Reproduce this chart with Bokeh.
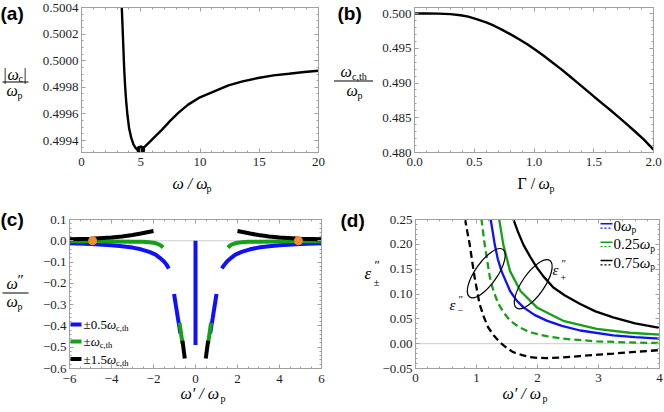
import numpy as np
from bokeh.plotting import figure
from bokeh.layouts import column, row
from bokeh.models import (Range1d, FixedTicker, LinearAxis, Label, Arrow, Span, GridBox,
                          PrintfTickFormatter, CustomJSTickFormatter)
from bokeh.embed import file_html
from bokeh.resources import INLINE

# ---------------- data: panel (a) ----------------
a_omega = [3.36, 3.40, 3.45, 3.49, 3.55, 3.60, 3.68, 3.77, 3.88, 4.02, 4.20, 4.39, 4.60, 4.80, 5.00,
           5.30, 5.65, 6.20, 6.78, 7.50, 8.19, 9.00, 10.0, 11.2, 12.4, 13.6, 14.9, 16.2, 17.5, 18.8, 20.0]
a_wc = [0.50050, 0.50040, 0.50029, 0.500195, 0.50006, 0.499944, 0.49981, 0.499695, 0.49959, 0.49949,
        0.49942, 0.49937, 0.49934, 0.49933, 0.49933, 0.49935, 0.49938, 0.49943, 0.49948, 0.49955,
        0.49961, 0.49967, 0.499725, 0.49977, 0.499815, 0.499845, 0.49987, 0.49989, 0.499902, 0.499915, 0.499925]
a_min_omega = [5.0]
a_min_wc = [0.49933]
a_xticks = [0, 5, 10, 15, 20]
a_yticks = [0.4994, 0.4996, 0.4998, 0.5000, 0.5002, 0.5004]

# ---------------- data: panel (b) ----------------
b_gamma = [0.0, 0.1, 0.2, 0.3, 0.386, 0.45, 0.525, 0.6, 0.665, 0.735, 0.805, 0.875, 0.944, 1.014,
           1.084, 1.154, 1.224, 1.294, 1.363, 1.433, 1.503, 1.573, 1.643, 1.713, 1.783, 1.85, 1.92, 2.0]
b_wth = [0.50000, 0.50000, 0.49999, 0.49992, 0.49975, 0.49955, 0.49917, 0.49872, 0.49825, 0.49765,
         0.49700, 0.49630, 0.49558, 0.49475, 0.49388, 0.49296, 0.49203, 0.49105, 0.49006, 0.48905,
         0.48803, 0.48704, 0.48605, 0.48502, 0.48398, 0.48295, 0.48185, 0.48040]
b_xticks = [0.0, 0.5, 1.0, 1.5, 2.0]
b_yticks = [0.480, 0.485, 0.490, 0.495, 0.500]

# ---------------- data: panel (c) ----------------
c_blue_tail_l_x = [-6.0, -5.0, -4.0, -3.5, -3.0, -2.6, -2.2, -1.9, -1.7, -1.5, -1.38, -1.27]
c_blue_tail_l_y = [-0.012, -0.015, -0.021, -0.026, -0.032, -0.040, -0.052, -0.065, -0.080, -0.097, -0.112, -0.130]
c_blue_tail_r_x = [6.0, 5.0, 4.0, 3.5, 3.0, 2.6, 2.2, 1.9, 1.7, 1.5, 1.38, 1.25]
c_blue_tail_r_y = [-0.012, -0.015, -0.021, -0.026, -0.032, -0.040, -0.052, -0.065, -0.080, -0.097, -0.112, -0.130]
c_green_tail_l_x = [-6.0, -5.0, -4.0, -3.0, -2.5, -2.2, -2.0, -1.85, -1.72, -1.62, -1.55]
c_green_tail_l_y = [-0.002, -0.002, -0.003, -0.004, -0.005, -0.007, -0.009, -0.013, -0.018, -0.024, -0.032]
c_green_tail_r_x = [6.0, 5.0, 4.0, 3.0, 2.5, 2.2, 2.0, 1.85, 1.72, 1.62, 1.55]
c_green_tail_r_y = [-0.002, -0.002, -0.003, -0.004, -0.005, -0.007, -0.009, -0.013, -0.018, -0.024, -0.032]
c_black_tail_l_x = [-6.0, -5.0, -4.0, -3.5, -3.0, -2.6, -2.3, -2.0]
c_black_tail_l_y = [0.007, 0.010, 0.015, 0.020, 0.027, 0.034, 0.040, 0.046]
c_black_tail_r_x = [6.0, 5.0, 4.0, 3.5, 3.0, 2.6, 2.3, 2.0]
c_black_tail_r_y = [0.007, 0.010, 0.015, 0.020, 0.027, 0.034, 0.040, 0.046]
c_blue_in_l_x = [-1.02, -0.96, -0.90, -0.84, -0.78, -0.72]
c_blue_in_r_x = [1.00, 0.94, 0.88, 0.82, 0.76, 0.70]
c_blue_in_y = [-0.250, -0.288, -0.325, -0.362, -0.398, -0.435]
c_green_in_l_x = [-0.76, -0.71, -0.66, -0.62]
c_green_in_r_x = [0.74, 0.69, 0.64, 0.60]
c_green_in_y = [-0.385, -0.420, -0.455, -0.482]
c_black_in_l_x = [-0.62, -0.58, -0.54, -0.51]
c_black_in_r_x = [0.60, 0.56, 0.52, 0.49]
c_black_in_y = [-0.470, -0.500, -0.530, -0.553]
c_blue_mid_x = [0.0, 0.0]
c_blue_mid_y = [0.0, -0.49]
c_dot_x = [-4.9, 4.9]
c_dot_y = [0.0, 0.0]
c_xticks = [-6, -4, -2, 0, 2, 4, 6]
c_yticks = [-0.6, -0.5, -0.4, -0.3, -0.2, -0.1, 0.0, 0.1]
c_legend = ["\u00b10.5", "\u00b1", "\u00b11.5"]

# ---------------- data: panel (d) ----------------
d_blue_x = [1.23, 1.30, 1.35, 1.41, 1.55, 1.65, 1.77, 1.95, 2.15, 2.40, 2.70, 3.24, 3.60, 4.00]
d_blue_y = [0.252, 0.199, 0.170, 0.146, 0.106, 0.088, 0.073, 0.058, 0.0464, 0.036, 0.0265, 0.0165, 0.013, 0.010]
d_green_p_x = [1.37, 1.44, 1.55, 1.72, 1.99, 2.42, 2.97, 3.51, 4.00]
d_green_p_y = [0.252, 0.199, 0.146, 0.106, 0.073, 0.046, 0.0299, 0.022, 0.018]
d_green_m_x = [1.08, 1.135, 1.22, 1.28, 1.36, 1.45, 1.55, 1.70, 1.875, 2.15, 2.42, 2.97, 3.50, 4.00]
d_green_m_y = [0.252, 0.199, 0.133, 0.105, 0.080, 0.062, 0.0464, 0.033, 0.023, 0.015, 0.010, 0.0046, 0.0025, 0.0013]
d_black_p_x = [1.60, 1.68, 1.77, 1.88, 1.99, 2.10, 2.26, 2.45, 2.70, 2.95, 3.24, 3.60, 4.00]
d_black_p_y = [0.252, 0.225, 0.199, 0.175, 0.153, 0.135, 0.113, 0.097, 0.080, 0.065, 0.053, 0.041, 0.032]
d_black_m_x = [0.81, 0.85, 0.89, 0.93, 0.97, 1.05, 1.12, 1.19, 1.28, 1.38, 1.50, 1.60, 1.75, 1.87,
               2.00, 2.15, 2.40, 2.69, 3.00, 3.24, 3.60, 4.00]
d_black_m_y = [0.252, 0.225, 0.199, 0.165, 0.133, 0.080, 0.054, 0.033, 0.017, 0.003, -0.009, -0.017,
               -0.023, -0.027, -0.0285, -0.029, -0.028, -0.025, -0.022, -0.020, -0.0165, -0.013]
d_ellipse_x = [1.16, 1.93]
d_ellipse_y = [0.142, 0.1195]
d_xticks = [0, 1, 2, 3, 4]
d_yticks = [-0.05, 0.0, 0.05, 0.10, 0.15, 0.20, 0.25]
d_legend = ["0", "0.25", "0.75"]

# ---------------- styling ----------------
FRAME = "#a0a0a0"
TICKC = "#1e1e1e"
SERIF = "Liberation Serif"
SANS = "Liberation Sans"
BLUE = "#1010ff"
GREEN = "#16a016"
ORANGE = "#f28c28"


def style_axis(ax, ticks, minor, fmt, labels):
    ax.ticker = FixedTicker(ticks=ticks, minor_ticks=minor)
    if fmt is not None:
        ax.formatter = fmt
    ax.axis_line_color = FRAME
    ax.major_tick_line_color = FRAME
    ax.minor_tick_line_color = FRAME
    ax.major_tick_in = 4
    ax.major_tick_out = 0
    ax.minor_tick_in = 2
    ax.minor_tick_out = 0
    if labels:
        ax.major_label_text_font = SERIF
        ax.major_label_text_font_size = "13px"
        ax.major_label_text_color = TICKC
    else:
        ax.major_label_text_font_size = "1px"
        ax.major_label_text_color = None
        ax.major_label_standoff = 0


def base(xr, yr, borders, xt, xm, yt, ym, xfmt, yfmt, xstand=5, ystand=3):
    l, r, t, b = borders
    p = figure(width=332, height=206, x_range=Range1d(*xr), y_range=Range1d(*yr),
               output_backend="svg", toolbar_location=None,
               min_border_left=l, min_border_right=r, min_border_top=t, min_border_bottom=b)
    p.grid.visible = False
    p.outline_line_color = FRAME
    p.border_fill_color = "white"
    style_axis(p.xaxis[0], xt, xm, xfmt, True)
    style_axis(p.yaxis[0], yt, ym, yfmt, True)
    p.xaxis[0].major_label_standoff = xstand
    p.yaxis[0].major_label_standoff = ystand
    top = LinearAxis()
    style_axis(top, xt, xm, None, False)
    p.add_layout(top, "above")
    right = LinearAxis()
    style_axis(right, yt, ym, None, False)
    p.add_layout(right, "right")
    return p


def minus_fmt(n):
    return CustomJSTickFormatter(code=f"""
        const s = Math.abs(tick).toFixed({n});
        return (tick < -1e-12 ? '\u2212' : '') + s;""")


def mticks(lo, hi, step):
    return [float(v) for v in np.round(np.arange(lo, hi + step / 2, step), 6)]

# ---------------- panel (a) ----------------
pa = base((0, 20), (0.49931, 0.5004), (81, 14, 7, 54),
          a_xticks, mticks(0, 20, 1), a_yticks, mticks(0.4993, 0.5004, 0.00005),
          PrintfTickFormatter(format="%d"), PrintfTickFormatter(format="%.4f"))
pa.line(a_omega, a_wc, line_color="black", line_width=2.4)
pa.scatter(a_min_omega, a_min_wc, size=8, color="black")

# ---------------- panel (b) ----------------
pb = base((0, 2), (0.480, 0.50087), (82, 11, 3, 52),
          b_xticks, mticks(0, 2, 0.1), b_yticks, mticks(0.480, 0.500, 0.001),
          PrintfTickFormatter(format="%.1f"), PrintfTickFormatter(format="%.3f"))
pb.line(b_gamma, b_wth, line_color="black", line_width=2.4)

# ---------------- panel (c) ----------------
pc = base((-6, 6), (-0.6, 0.1), (69, 11, 7, 44),
          c_xticks, mticks(-6, 6, 0.5), c_yticks, mticks(-0.6, 0.1, 0.02),
          minus_fmt(0), minus_fmt(1), xstand=6)
pc.add_layout(Span(location=0, dimension="width", line_color="#cccccc", line_width=1, level="underlay"))
LW = 4
pc.line(c_blue_tail_l_x, c_blue_tail_l_y, line_color=BLUE, line_width=LW)
pc.line(c_blue_tail_r_x, c_blue_tail_r_y, line_color=BLUE, line_width=LW)
pc.line(c_blue_in_l_x, c_blue_in_y, line_color=BLUE, line_width=LW)
pc.line(c_blue_in_r_x, c_blue_in_y, line_color=BLUE, line_width=LW)
pc.line(c_blue_mid_x, c_blue_mid_y, line_color=BLUE, line_width=LW)
pc.line(c_green_tail_l_x, c_green_tail_l_y, line_color=GREEN, line_width=LW)
pc.line(c_green_tail_r_x, c_green_tail_r_y, line_color=GREEN, line_width=LW)
pc.line(c_green_in_l_x, c_green_in_y, line_color=GREEN, line_width=LW)
pc.line(c_green_in_r_x, c_green_in_y, line_color=GREEN, line_width=LW)
pc.line(c_black_tail_l_x, c_black_tail_l_y, line_color="black", line_width=LW)
pc.line(c_black_tail_r_x, c_black_tail_r_y, line_color="black", line_width=LW)
pc.line(c_black_in_l_x, c_black_in_y, line_color="black", line_width=LW)
pc.line(c_black_in_r_x, c_black_in_y, line_color="black", line_width=LW)
pc.scatter(c_dot_x, c_dot_y, size=8, color=ORANGE)

# ---------------- panel (d) ----------------
pd_ = base((0, 4), (-0.05, 0.25), (83, 5, 13, 43),
           d_xticks, mticks(0, 4, 0.2), d_yticks, mticks(-0.05, 0.25, 0.01),
           minus_fmt(0), minus_fmt(2))
pd_.add_layout(Span(location=0, dimension="width", line_color="#cccccc", line_width=1, level="underlay"))
DW = 2.3
DASH = "7 4"
pd_.line(d_black_m_x, d_black_m_y, line_color="black", line_width=DW, line_dash=DASH)
pd_.line(d_green_m_x, d_green_m_y, line_color=GREEN, line_width=DW, line_dash=DASH)
pd_.line(d_blue_x, d_blue_y, line_color=BLUE, line_width=DW)
pd_.line(d_green_p_x, d_green_p_y, line_color=GREEN, line_width=DW)
pd_.line(d_black_p_x, d_black_p_y, line_color="black", line_width=DW)
pd_.ellipse(x=d_ellipse_x, y=d_ellipse_y, width=58, height=22, angle=0.96,
            width_units="screen", height_units="screen", fill_alpha=0,
            line_color="black", line_width=1.2)

# ---------------- transparent text overlay (page pixel coordinates) ----------------
ov = figure(width=664, height=412, x_range=Range1d(0, 664), y_range=Range1d(412, 0),
            output_backend="svg", toolbar_location=None, min_border=0,
            x_axis_location=None, y_axis_location=None)
ov.grid.visible = False
ov.outline_line_color = None
ov.background_fill_color = None
ov.border_fill_color = None


def T(cx, cy, s, size, style="normal", font=SERIF, color="black"):
    ov.add_layout(Label(x=cx, y=cy, text=s, text_font=font, text_font_size=f"{size}px",
                        text_font_style=style, text_align="left", text_baseline="middle",
                        text_color=color))


def H(x0, x1, cy, color="black", width=1.0, dash="solid"):
    ov.add_layout(Arrow(end=None, x_start=x0, y_start=cy, x_end=x1, y_end=cy,
                        line_color=color, line_width=width, line_dash=dash))

# (a)
T(0, 13, "(a)", 19, "bold", SANS)
T(3, 73.5, "|", 16)
T(7, 73.5, "\u03c9", 16, "italic")
T(18, 78, "c", 10)
T(23, 73.5, "|", 16)
H(2, 28, 81.5)
T(6, 90, "\u03c9", 16, "italic")
T(17, 95, "p", 10)
T(172, 183, "\u03c9 / \u03c9", 16, "italic")
T(206, 188, "p", 10)
# (b)
T(337, 13, "(b)", 19, "bold", SANS)
T(340, 71, "\u03c9", 16, "italic")
T(351.5, 75.5, "c,th", 10)
H(333.5, 372.5, 80.5)
T(346, 90, "\u03c9", 16, "italic")
T(357, 95, "p", 10)
T(517, 183, "\u0393 / ", 16)
T(538, 183, "\u03c9", 16, "italic")
T(549, 188, "p", 10)
# (c)
T(0, 219, "(c)", 19, "bold", SANS)
T(6, 283, "\u03c9", 16, "italic")
T(17, 279, "\u2033", 15)
H(2, 28, 292.5)
T(6, 301, "\u03c9", 16, "italic")
T(17, 306, "p", 10)
T(180, 393, "\u03c9\u2032 / \u03c9", 16, "italic")
T(220, 398, "p", 10)
for lab, yy, col, w in zip(c_legend, [324, 341, 358.5], [BLUE, GREEN, "black"], [23.6, 7.3, 23.6]):
    H(70, 81, yy, color=col, width=4)
    T(83, yy, lab, 13)
    T(83 + w, yy, "\u03c9", 13, "italic")
    T(83 + w + 9, yy + 3.5, "c,th", 8.5)
# (d)
T(340, 219.5, "(d)", 19, "bold", SANS)
T(364, 273, "\u03b5", 17, "italic")
T(374, 264, "\u2033", 13)
T(373, 281, "\u00b1", 11)
T(502, 393, "\u03c9\u2032 / \u03c9", 16, "italic")
T(542, 398, "p", 10)
T(449, 304, "\u03b5", 15, "italic")
T(458, 298, "\u2033", 11)
T(457, 310, "\u2212", 10)
T(552, 269, "\u03b5", 15, "italic")
T(561, 262, "\u2033", 11)
T(560, 277, "+", 10)
for lab, yy, col, w in zip(d_legend, [223.3, 241.7, 260.0], [BLUE, GREEN, "black"], [7.5, 26.3, 26.3]):
    H(600, 612, yy, color=col, width=1.5)
    H(600, 612, yy + 4.3, color=col, width=1.2, dash="2 2")
    T(613, yy + 2, lab, 15)
    T(613 + w, yy + 2, "\u03c9", 15, "italic")
    T(613 + w + 10.5, yy + 6.5, "p", 9.5)

panels = column(row(pa, pb), row(pc, pd_))
layout = GridBox(children=[(panels, 0, 0), (ov, 0, 0)])
open("out.html", "w").write(file_html(layout, INLINE))
